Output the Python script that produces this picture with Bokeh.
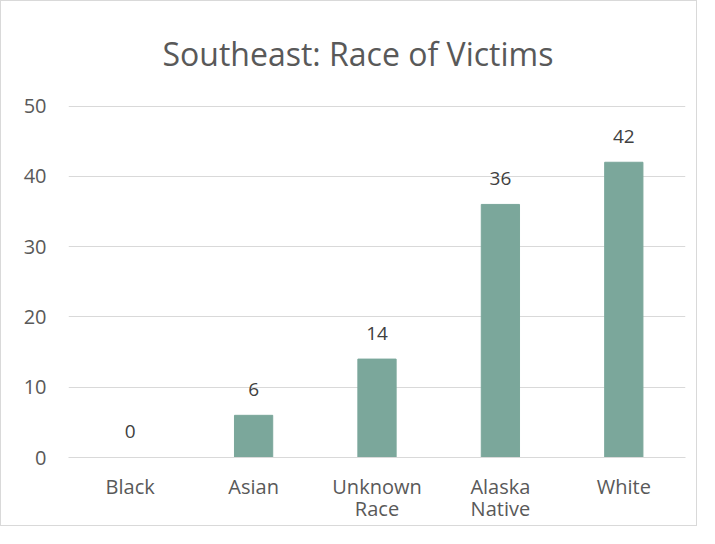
from bokeh.plotting import figure
from bokeh.models import Range1d, ColumnDataSource, LinearAxis, FixedTicker
from bokeh.core.properties import value
from bokeh.embed import file_html
from bokeh.resources import INLINE

categories = ["Black", "Asian", "Unknown Race", "Alaska Native", "White"]
tick_line1 = ["Black", "Asian", "Unknown", "Alaska", "White"]
tick_line2 = ["", "", "Race", "Native", ""]
victims = [0, 6, 14, 36, 42]
value_labels = [str(v) for v in victims]
y_ticks = [0, 10, 20, 30, 40, 50]

FONT = "Open Sans"
BAR = "#7BA79B"
TXT = "#595959"

pos = list(range(len(categories)))
src = ColumnDataSource(dict(x=pos, cat=categories, val=victims, lab=value_labels))

p = figure(
    width=697, height=526,
    x_range=Range1d(-0.5, len(categories) - 0.5),
    y_range=Range1d(0, 50.5),
    output_backend="svg", toolbar_location=None,
    min_border_left=67, min_border_right=13,
    min_border_top=101, min_border_bottom=70,
    title="Southeast: Race of Victims",
    styles={"border": "1px solid #d9d9d9"},
)
p.outline_line_color = None
p.background_fill_color = "white"
p.border_fill_color = "white"

p.title.align = "left"
p.title.offset = 94
p.title.text_font = FONT
p.title.text_font_size = "32px"
p.title.text_font_style = "normal"
p.title.text_color = TXT
p.title.standoff = 56

p.vbar(x="x", top="val", bottom=0, width=0.31, color=BAR, source=src)
p.text(x="x", y="val", text="lab", source=src, text_align="center",
       text_baseline="alphabetic", y_offset=-26, text_font=value(FONT),
       text_font_size="19px", text_color="#404040")

p.xgrid.grid_line_color = None
p.ygrid.grid_line_color = "#d9d9d9"
p.ygrid.grid_line_width = 1
p.yaxis.ticker = y_ticks

p.yaxis.axis_line_color = None
p.yaxis.major_tick_line_color = None
p.yaxis.minor_tick_line_color = None
p.yaxis.major_tick_out = 0
p.yaxis.major_tick_in = 0
p.yaxis.major_label_standoff = 22
p.yaxis.major_label_text_font = FONT
p.yaxis.major_label_text_font_size = "20px"
p.yaxis.major_label_text_color = TXT

xa = p.xaxis[0]
xa.ticker = FixedTicker(ticks=pos)
xa.axis_line_color = "#d9d9d9"
xa.axis_line_width = 1
xa.major_tick_line_color = None
xa.minor_tick_line_color = None
xa.major_tick_out = 0
xa.major_tick_in = 0
xa.major_label_standoff = 15
xa.major_label_overrides = {i: t for i, t in zip(pos, tick_line1)}
xa.major_label_text_font = FONT
xa.major_label_text_font_size = "20px"
xa.major_label_text_color = TXT

# second row of the two-line category labels
pos2 = [i for i, t in zip(pos, tick_line2) if t]
xa2 = LinearAxis(
    ticker=FixedTicker(ticks=pos2),
    axis_line_color=None, major_tick_line_color=None, minor_tick_line_color=None,
    major_tick_out=0, major_tick_in=0, major_label_standoff=-8,
    major_label_overrides={i: t for i, t in zip(pos, tick_line2) if t},
    major_label_text_font=FONT, major_label_text_font_size="20px",
    major_label_text_color=TXT,
)
p.add_layout(xa2, "below")

open("out.html", "w").write(file_html(p, INLINE))
